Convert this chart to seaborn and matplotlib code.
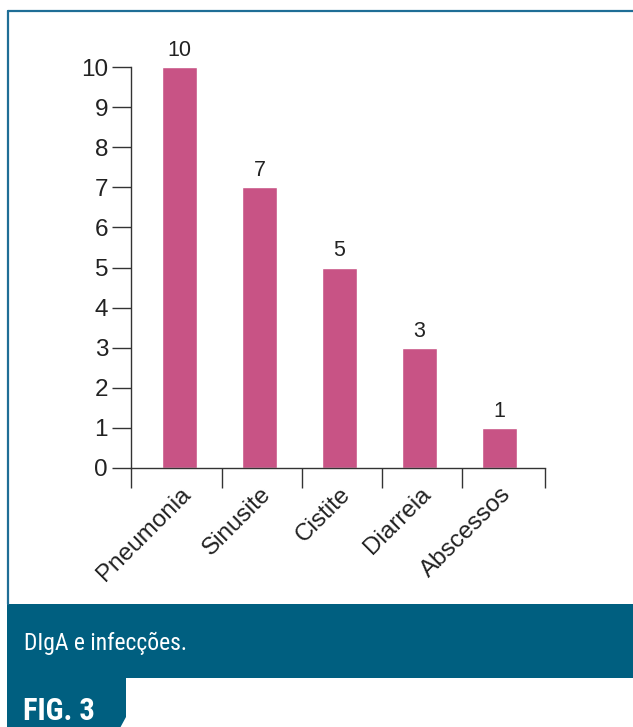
import matplotlib
matplotlib.use("Agg")
import matplotlib.pyplot as plt
import seaborn as sns
import pandas as pd
from matplotlib import font_manager
from matplotlib.font_manager import FontProperties
from matplotlib.patches import Rectangle, Polygon
from matplotlib.lines import Line2D

# data
infeccoes = ["Pneumonia", "Sinusite", "Cistite", "Diarreia", "Abscessos"]
casos = [10, 7, 5, 3, 1]
y_ticks = list(range(0, 11))
legenda = "DIgA e infecções."
rotulo_fig = "FIG. 3"

df = pd.DataFrame({"infeccao": infeccoes, "casos": casos})

sns.set_style("white")
plt.rcParams["font.family"] = ["Liberation Sans", "DejaVu Sans"]


def narrow_font(bold=False):
    # look for any condensed / narrow face installed
    prefs = ["LiberationSansNarrow", "RobotoCondensed", "DejaVuSansCondensed",
             "OpenSans_Condensed", "OpenSansCondensed"]
    files = [f.fname for f in font_manager.fontManager.ttflist]
    for p in prefs:
        cands = [f for f in files if p.lower() in f.lower().replace("-", "")]
        if bold:
            cands = [f for f in cands if "bold" in f.lower() and "italic" not in f.lower()
                     and "oblique" not in f.lower()]
        else:
            cands = [f for f in cands if "bold" not in f.lower() and "italic" not in f.lower()
                     and "oblique" not in f.lower() and "light" not in f.lower()]
        if cands:
            return FontProperties(fname=sorted(cands, key=len)[0])
    return FontProperties(family="Roboto", weight="bold" if bold else "normal")


W, H = 633, 727
fig = plt.figure(figsize=(W / 100, H / 100), dpi=100)


def fx(px):
    return px / W


def fy(py):
    return 1 - py / H


ax = fig.add_axes([fx(131), fy(468), fx(545) - fx(131), fy(67) - fy(468)])

bar_color = "#C85385"
sns.barplot(data=df, x="infeccao", y="casos", color=bar_color, width=0.44,
            saturation=1, ax=ax)

x0, x1 = -0.606, len(infeccoes) - 1 + 0.57
ax.set_xlim(x0, x1)
ax.set_ylim(0, 10)
ax.set_xlabel("")
ax.set_ylabel("")

for i, v in enumerate(casos):
    ax.text(i, v + 0.15, str(v), ha="center", va="bottom", fontsize=15.5,
            color="#222222", clip_on=False)

sns.despine(ax=ax)
for s in ["left", "bottom"]:
    ax.spines[s].set_color("#333333")
    ax.spines[s].set_linewidth(1.0)

ax.set_yticks(y_ticks)
ax.tick_params(axis="y", left=True, direction="out", length=13.5, width=1.0,
               color="#333333", labelsize=17.5, labelcolor="#222222", pad=3)

ax.set_xticks(range(len(infeccoes)))
ax.set_xticklabels(infeccoes, rotation=45, ha="right", rotation_mode="anchor",
                   fontsize=17.5, color="#222222")
ax.tick_params(axis="x", which="major", bottom=True, length=0, pad=11)
ax.set_xticks([x0] + [i + 0.53 for i in range(len(infeccoes) - 1)] + [x1], minor=True)
ax.tick_params(axis="x", which="minor", bottom=True, direction="out", length=14.5,
               width=1.0, color="#333333")

# frame around the chart area
line_col = "#1F6E96"
fig.add_artist(Line2D([fx(8), fx(8)], [fy(11), fy(604)], color=line_col,
                      lw=1.6, transform=fig.transFigure))
fig.add_artist(Line2D([fx(8), 1], [fy(11), fy(11)], color=line_col,
                      lw=1.6, transform=fig.transFigure))

# caption band
band = "#005F80"
fig.add_artist(Rectangle((fx(7), fy(678)), 1 - fx(7), fy(604) - fy(678),
                         transform=fig.transFigure, color=band, lw=0))
fig.add_artist(Polygon([(fx(7), fy(678)), (fx(126), fy(678)), (fx(126), fy(717)),
                        (fx(120), fy(728)), (fx(7), fy(728))],
                       closed=True, transform=fig.transFigure, color=band, lw=0))

fp_reg = narrow_font()
fp_reg.set_size(17)
fp_bold = narrow_font(bold=True)
fp_bold.set_size(22)
fig.text(fx(24), fy(643), legenda, color="white", fontproperties=fp_reg,
         va="center", ha="left")
fig.text(fx(23), fy(711), rotulo_fig, color="white", fontproperties=fp_bold,
         va="center", ha="left")

fig.savefig("out.png", dpi=100, facecolor="white")
